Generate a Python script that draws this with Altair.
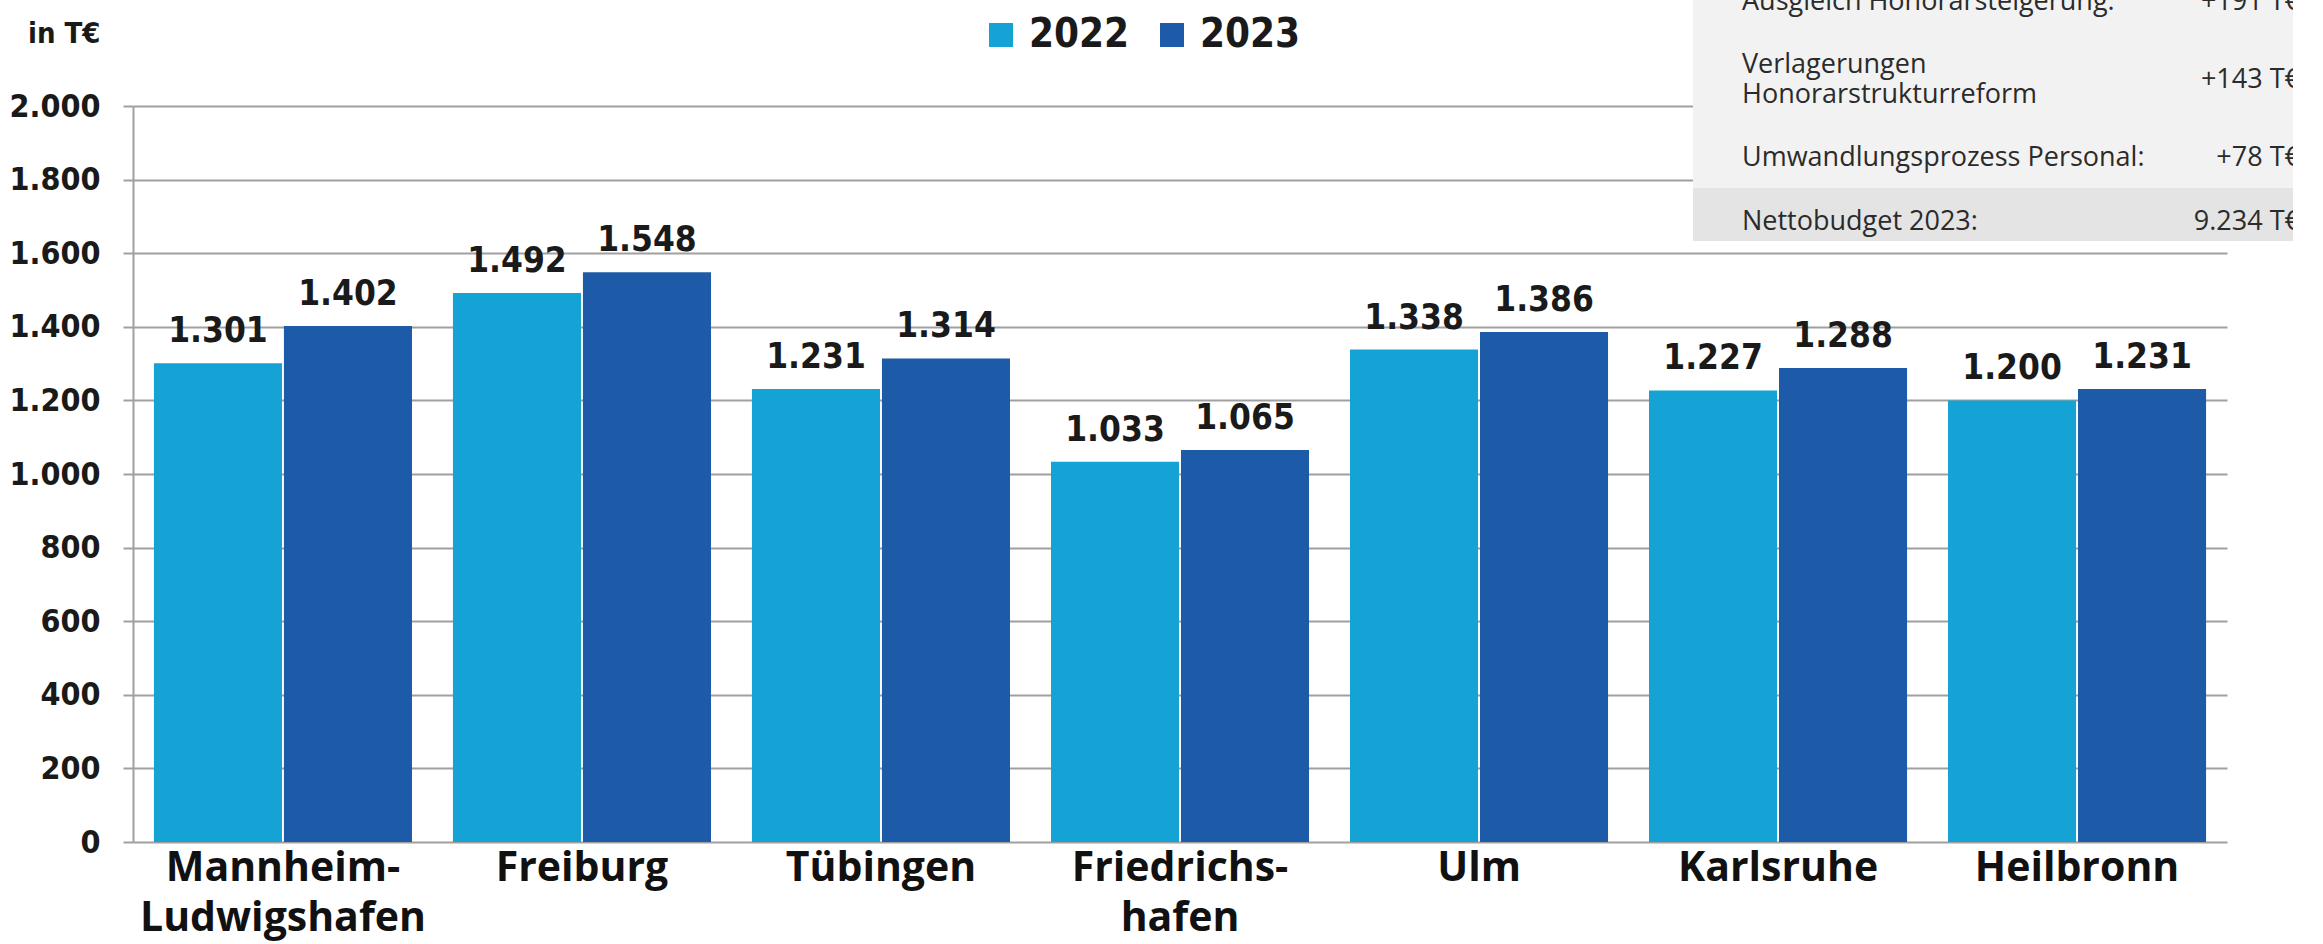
import altair as alt
import pandas as pd

# ---- data ----
regions = ["Mannheim-\nLudwigshafen", "Freiburg", "Tübingen", "Friedrichs-\nhafen",
           "Ulm", "Karlsruhe", "Heilbronn"]
years = ["2022", "2023"]
values_2022 = [1301, 1492, 1231, 1033, 1338, 1227, 1200]
values_2023 = [1402, 1548, 1314, 1065, 1386, 1288, 1231]
y_ticks = [0, 200, 400, 600, 800, 1000, 1200, 1400, 1600, 1800, 2000]
colors = ["#14a3d4", "#1d5ba8"]
table_labels = ["Ausgleich Honorarsteigerung:", "Verlagerungen", "Honorarstrukturreform",
                "Umwandlungsprozess Personal:", "Nettobudget 2023:"]
table_values = ["+191 T€", "+143 T€", "+78 T€", "9.234 T€"]

rows = []
for r, v in zip(regions, values_2022):
    rows.append({"region": r, "year": "2022", "value": v})
for r, v in zip(regions, values_2023):
    rows.append({"region": r, "year": "2023", "value": v})
df = pd.DataFrame(rows)

GRID = "#a0a0a0"
NUMFONT = "DejaVu Sans Condensed, DejaVu Sans"
TXTFONT = "Open Sans"
DARK = "#1a1a1a"

x_enc = alt.X(
    "region:N", sort=regions,
    scale=alt.Scale(paddingInner=0.137, paddingOuter=0.07),
    axis=alt.Axis(title=None, labelAngle=0, labelExpr="split(datum.label, '\\n')",
                  labelFont=TXTFONT, labelFontWeight="bold", labelFontSize=41,
                  labelLineHeight=50, labelPadding=6, labelBaseline="top",
                  labelColor="#111111", labelLimit=500, ticks=False, domain=False,
                  grid=False),
)
xoff_enc = alt.XOffset("year:N", sort=years, scale=alt.Scale(paddingInner=0.015))
y_enc = alt.Y(
    "value:Q", scale=alt.Scale(domain=[0, 2000], nice=False),
    axis=alt.Axis(values=y_ticks, title="in T€", titleAngle=0, titleX=-33, titleY=-73,
                  titleAlign="right", titleBaseline="middle", titleFont=NUMFONT,
                  titleFontSize=29, titleFontWeight="bold", titleColor=DARK,
                  labelExpr="replace(format(datum.value, ','), ',', '.')",
                  labelFont=NUMFONT, labelFontWeight="bold", labelFontSize=32,
                  labelColor=DARK, labelPadding=23, tickSize=10, tickColor=GRID,
                  tickWidth=2, domainColor=GRID, domainWidth=2, grid=True,
                  gridColor=GRID, gridWidth=2),
)

base = alt.Chart(df).encode(x=x_enc, xOffset=xoff_enc, y=y_enc)

bars = base.mark_bar().encode(
    color=alt.Color("year:N", scale=alt.Scale(domain=years, range=colors),
                    legend=alt.Legend(title=None, orient="none", legendX=848, legendY=-91,
                                      direction="horizontal", symbolType="square",
                                      symbolSize=576, symbolStrokeWidth=0,
                                      labelFont=NUMFONT, labelFontWeight="bold",
                                      labelFontSize=40, labelColor=DARK,
                                      labelOffset=8, columnPadding=22))
)

labels = base.transform_calculate(
    label="replace(format(datum.value, ','), ',', '.')"
).mark_text(baseline="alphabetic", dy=-21, font=NUMFONT, fontWeight="bold",
            fontSize=35, color=DARK).encode(text="label:N")

one = alt.Data(values=[{}])

box = alt.Chart(one).mark_rect(color="#f2f2f2").encode(
    x=alt.value(1560), x2=alt.value(2200), y=alt.value(-106), y2=alt.value(135))
band = alt.Chart(one).mark_rect(color="#e4e4e4").encode(
    x=alt.value(1560), x2=alt.value(2200), y=alt.value(82), y2=alt.value(135))

label_y = [-96, -33, -3, 60, 124]
value_y = [-96, -18, 60, 124]
ann = []
for t, yy in zip(table_labels, label_y):
    ann.append(alt.Chart(one).mark_text(align="left", baseline="alphabetic", font=TXTFONT,
                                        fontSize=27, color="#2b2b2b").encode(
        x=alt.value(1609), y=alt.value(yy), text=alt.value(t)))
for t, yy in zip(table_values, value_y):
    ann.append(alt.Chart(one).mark_text(align="right", baseline="alphabetic", font=TXTFONT,
                                        fontSize=27, color="#2b2b2b").encode(
        x=alt.value(2167), y=alt.value(yy), text=alt.value(t)))

chart = alt.layer(bars, labels, box, band, *ann).properties(
    width=2094, height=736,
    padding={"left": 133, "top": 106, "right": 66, "bottom": 102},
    autosize=alt.AutoSizeParams(type="none"),
    background="white",
).configure_view(stroke=None)

chart.save("out.html", embed_options={"renderer": "svg", "actions": False})
